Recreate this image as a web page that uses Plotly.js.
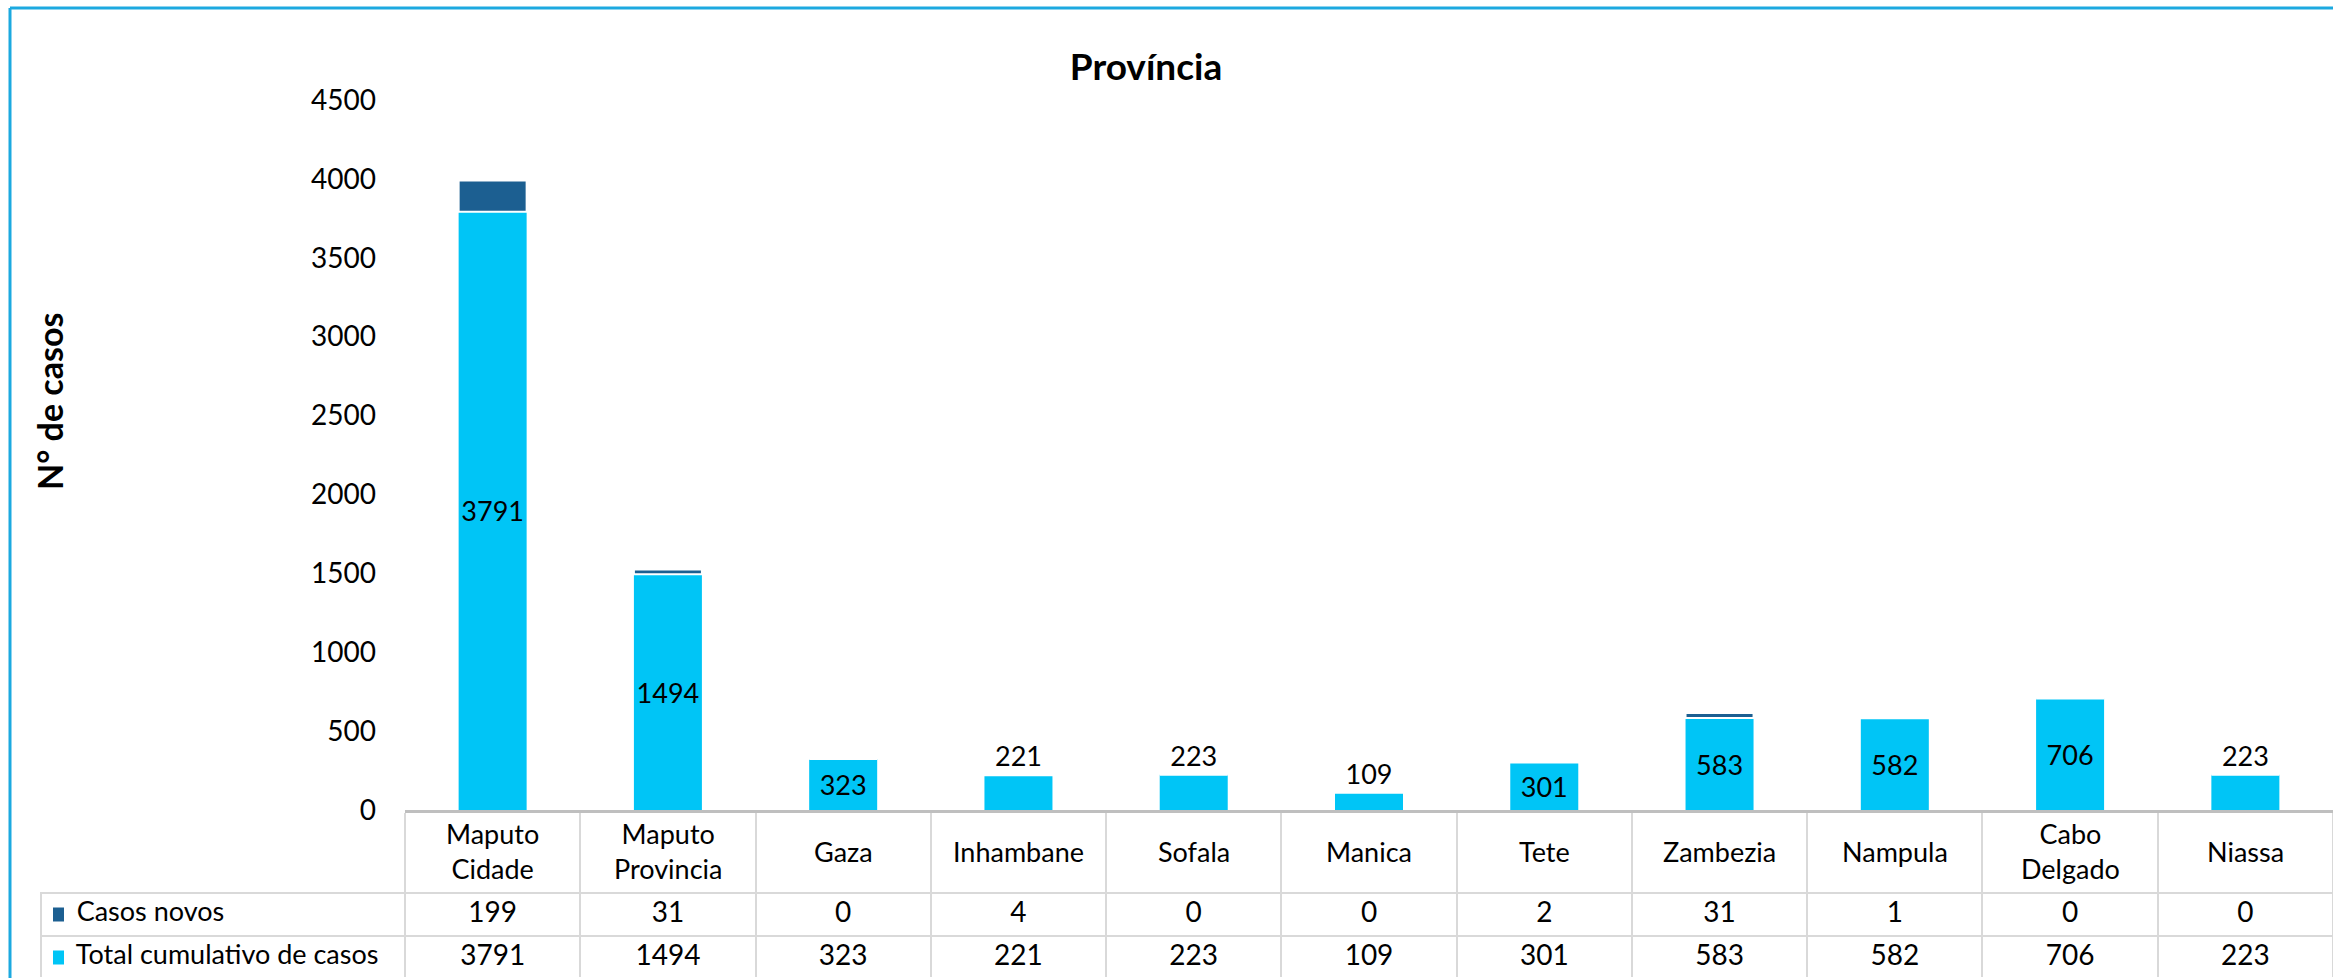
<!DOCTYPE html>
<html>
<head>
<meta charset="utf-8">
<script src="https://cdn.plot.ly/plotly-3.0.1.min.js"></script>
<style>html,body{margin:0;padding:0;background:#fff;overflow:hidden;}#chart{width:2333px;height:978px;}</style>
</head>
<body>
<div id="chart"></div>
<script>
const categories = ["Maputo Cidade", "Maputo Provincia", "Gaza", "Inhambane", "Sofala", "Manica", "Tete", "Zambezia", "Nampula", "Cabo Delgado", "Niassa"];
const casosNovos = [199, 31, 0, 4, 0, 0, 2, 31, 1, 0, 0];
const totalCumulativo = [3791, 1494, 323, 221, 223, 109, 301, 583, 582, 706, 223];
const seriesNames = ["Casos novos", "Total cumulativo de casos"];
const yTickVals = [0, 500, 1000, 1500, 2000, 2500, 3000, 3500, 4000, 4500];

const W = 2333, H = 978;
const DARK = '#1c5f91', LIGHT = '#00c5f6', GRID = '#d9d9d9';
const FONT = 'Lato, "Open Sans", sans-serif';
const PAD = '\u00a0\u00a0\u00a0\u00a0';

const traces = [
  {
    type: 'bar', name: seriesNames[1], x: categories, y: totalCumulativo,
    marker: {color: LIGHT, line: {width: 0}},
    text: totalCumulativo.map(String), textposition: 'auto', constraintext: 'none',
    textangle: 0, insidetextanchor: 'middle',
    textfont: {family: FONT, size: 27, color: '#000'},
    insidetextfont: {family: FONT, size: 27, color: '#000'},
    outsidetextfont: {family: FONT, size: 27, color: '#000'},
    cliponaxis: false, showlegend: false, hoverinfo: 'x+y'
  },
  {
    type: 'bar', name: seriesNames[0], x: categories, y: casosNovos, base: totalCumulativo,
    marker: {color: DARK, line: {color: '#ffffff', width: 2}},
    showlegend: false, hoverinfo: 'x+y'
  },
  {
    type: 'table',
    domain: {x: [41 / W, 1], y: [0, 1 - 893 / H]},
    columnwidth: [364].concat(categories.map(() => 175.27)),
    header: {
      values: [PAD + seriesNames[0]].concat(casosNovos.map(String)),
      align: ['left'].concat(categories.map(() => 'center')),
      height: 43,
      line: {color: GRID, width: 2},
      fill: {color: '#ffffff'},
      font: {family: FONT, size: [27].concat(categories.map(() => 28)), color: '#000'}
    },
    cells: {
      values: [[PAD + seriesNames[1]]].concat(totalCumulativo.map(v => [String(v)])),
      align: ['left'].concat(categories.map(() => 'center')),
      height: 42,
      line: {color: GRID, width: 2},
      fill: {color: '#ffffff'},
      font: {family: FONT, size: [27].concat(categories.map(() => 28)), color: '#000'}
    }
  }
];

const annotations = categories.map(c => ({
  xref: 'x', yref: 'paper', x: c, y: 1 - 851 / H, yanchor: 'middle', xanchor: 'center',
  text: c.replace(' ', '<br>'), showarrow: false, align: 'center',
  font: {family: FONT, size: 27, color: '#000'}
}));
annotations.push({
  xref: 'paper', yref: 'paper', x: 49 / W, y: 1 - 402 / H, xanchor: 'center', yanchor: 'middle',
  text: 'N° de casos', textangle: -90, showarrow: false,
  font: {family: FONT, size: 34, weight: 'bold', color: '#000'}
});

function legendSquare(color, yCenterPx) {
  return {
    type: 'rect', xref: 'paper', yref: 'paper',
    xsizemode: 'pixel', ysizemode: 'pixel',
    xanchor: 58.5 / W, yanchor: 1 - yCenterPx / H,
    x0: -5.5, x1: 5.5, y0: -7, y1: 7,
    fillcolor: color, line: {width: 0}, layer: 'above'
  };
}

const BORDER = {color: '#1ca9e0', width: 3};

const layout = {
  width: W, height: H,
  margin: {l: 0, r: 0, t: 0, b: 0},
  paper_bgcolor: '#ffffff', plot_bgcolor: '#ffffff',
  barmode: 'overlay', bargap: 0.612,
  font: {family: FONT, color: '#000'},
  title: {
    text: 'Província', x: 1146 / W, xanchor: 'center', xref: 'paper',
    y: 1 - 67 / H, yanchor: 'middle', yref: 'paper',
    font: {family: FONT, size: 37, weight: 'bold', color: '#000'}
  },
  xaxis: {
    type: 'category', domain: [405 / W, 1], automargin: false,
    showticklabels: false, ticks: 'outside', tickson: 'boundaries', ticklen: 83,
    tickcolor: GRID, tickwidth: 2,
    showline: true, linecolor: '#bfbfbf', linewidth: 3, showgrid: false, zeroline: false,
    fixedrange: true
  },
  yaxis: {
    domain: [1 - 810 / H, 1 - 100 / H], range: [0, 4500], automargin: false,
    tickvals: yTickVals, ticktext: yTickVals.map(String),
    ticks: '', ticklabelstandoff: 28,
    showgrid: false, showline: false, zeroline: false,
    tickfont: {family: FONT, size: 28, color: '#000'},
    fixedrange: true
  },
  annotations: annotations,
  shapes: [
    {type: 'line', xref: 'paper', yref: 'paper', x0: 10 / W, x1: 10 / W, y0: 0, y1: 1 - 8 / H, line: BORDER, layer: 'above'},
    {type: 'line', xref: 'paper', yref: 'paper', x0: 10 / W, x1: 1.05, y0: 1 - 8 / H, y1: 1 - 8 / H, line: BORDER, layer: 'above'},
    legendSquare(DARK, 914.5),
    legendSquare(LIGHT, 957.5)
  ]
};

Plotly.newPlot('chart', traces, layout, {staticPlot: true, displayModeBar: false});
</script>
</body>
</html>
